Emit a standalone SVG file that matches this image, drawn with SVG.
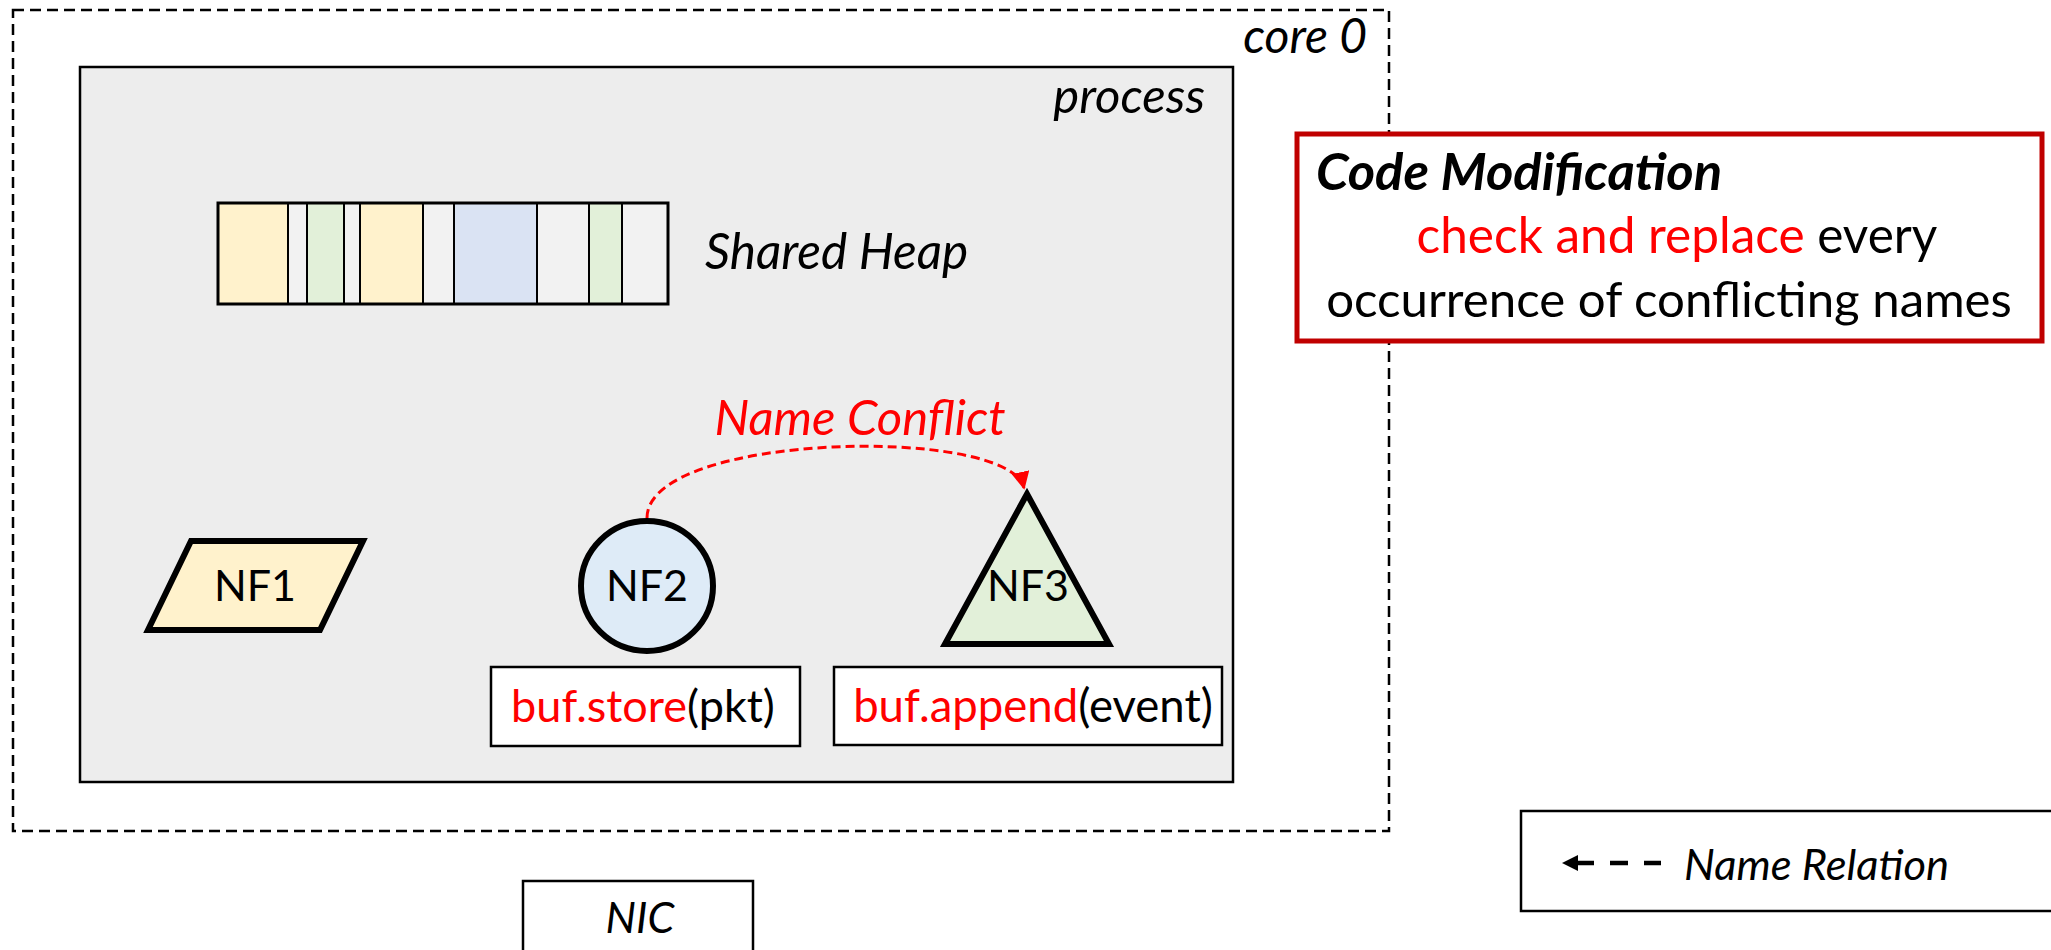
<svg xmlns="http://www.w3.org/2000/svg" width="2051" height="950" viewBox="0 0 2051 950">
<defs>
<style>
text{font-family:"Lato","Liberation Sans",sans-serif;fill:#000}
.it{font-style:italic}
.red{fill:#FF0000}
.cell{stroke:#000;stroke-width:2}
.nf{stroke:#000;stroke-width:6;stroke-linejoin:miter}
.box{fill:#fff;stroke:#000;stroke-width:2.5}
</style>
<marker id="redArrow" viewBox="0 0 10 10" refX="9" refY="5" markerWidth="6" markerHeight="6" markerUnits="strokeWidth" orient="auto">
<path d="M0,0 L10,5 L0,10 z" fill="#FF0000"/>
</marker>
</defs>
<rect width="2051" height="950" fill="#fff"/>
<g id="core0">
<rect x="13" y="10" width="1376" height="821" fill="none" stroke="#000" stroke-width="2.5" stroke-dasharray="11 6"/>
<text class="it" x="1367" y="53" font-size="48" text-anchor="end">core 0</text>
</g>
<g id="process">
<rect x="80" y="67" width="1153" height="715" fill="#EDEDED" stroke="#000" stroke-width="2.5"/>
<text class="it" x="1205" y="113" font-size="49" text-anchor="end">process</text>
</g>
<g id="shared-heap">
<rect class="cell" x="218" y="203" width="70" height="101" fill="#FFF2CC"/>
<rect class="cell" x="288" y="203" width="19" height="101" fill="#F2F2F2"/>
<rect class="cell" x="307" y="203" width="37" height="101" fill="#E2F0D9"/>
<rect class="cell" x="344" y="203" width="16" height="101" fill="#F2F2F2"/>
<rect class="cell" x="360" y="203" width="63" height="101" fill="#FFF2CC"/>
<rect class="cell" x="423" y="203" width="31" height="101" fill="#F2F2F2"/>
<rect class="cell" x="454" y="203" width="83" height="101" fill="#DAE3F3"/>
<rect class="cell" x="537" y="203" width="52" height="101" fill="#F2F2F2"/>
<rect class="cell" x="589" y="203" width="33" height="101" fill="#E2F0D9"/>
<rect class="cell" x="622" y="203" width="46" height="101" fill="#F2F2F2"/>
<rect x="218" y="203" width="450" height="101" fill="none" stroke="#000" stroke-width="3"/>
<text class="it" x="705" y="269" font-size="49.5">Shared Heap</text>
</g>
<g id="nf1">
<polygon class="nf" points="191,541 363,541 320,630 148,630" fill="#FFF2CC"/>
<text x="255" y="601" font-size="43" text-anchor="middle">NF1</text>
</g>
<g id="nf2">
<ellipse class="nf" cx="647" cy="586" rx="66" ry="65" fill="#DEEBF7"/>
<text x="647" y="601" font-size="43" text-anchor="middle">NF2</text>
</g>
<g id="nf3">
<polygon class="nf" points="1027,494 1109,644 945,644" fill="#E2F0D9"/>
<text x="1028" y="601" font-size="43" text-anchor="middle">NF3</text>
</g>
<g id="nf2-code">
<rect class="box" x="491" y="667" width="309" height="79"/>
<text x="643" y="722" font-size="45" text-anchor="middle"><tspan class="red">buf.store</tspan>(pkt)</text>
</g>
<g id="nf3-code">
<rect class="box" x="834" y="667" width="388" height="78"/>
<text x="1033" y="722" font-size="45.5" text-anchor="middle"><tspan class="red">buf.append</tspan>(event)</text>
</g>
<g id="connectors">
<path d="M647,518 C647,432 1010,425 1024,488" fill="none" stroke="#FF0000" stroke-width="3" stroke-dasharray="9 5" marker-end="url(#redArrow)"/>
<text class="it red" x="860" y="435" font-size="49" text-anchor="middle">Name Conflict</text>
</g>
<g id="code-modification">
<rect x="1297" y="134" width="745" height="207" fill="#fff" stroke="#C00000" stroke-width="5"/>
<text x="1316" y="190" font-size="52.5" font-weight="bold" font-style="italic">Code Modification</text>
<text x="1677" y="253" font-size="49.5" text-anchor="middle"><tspan class="red">check and replace</tspan> every</text>
<text x="1669" y="317" font-size="49.2" text-anchor="middle">occurrence of conflicting names</text>
</g>
<g id="nic">
<rect class="box" x="523" y="881" width="230" height="80"/>
<text class="it" x="640" y="933" font-size="43" text-anchor="middle">NIC</text>
</g>
<g id="legend">
<rect x="1521" y="811" width="545" height="100" fill="#fff" stroke="#000" stroke-width="2.5"/>
<polygon points="1562,863 1578,855 1578,871" fill="#000"/>
<line x1="1576" y1="863" x2="1661" y2="863" stroke="#000" stroke-width="4.5" stroke-dasharray="18 16"/>
<text class="it" x="1684" y="880" font-size="43.5">Name Relation</text>
</g>
</svg>
